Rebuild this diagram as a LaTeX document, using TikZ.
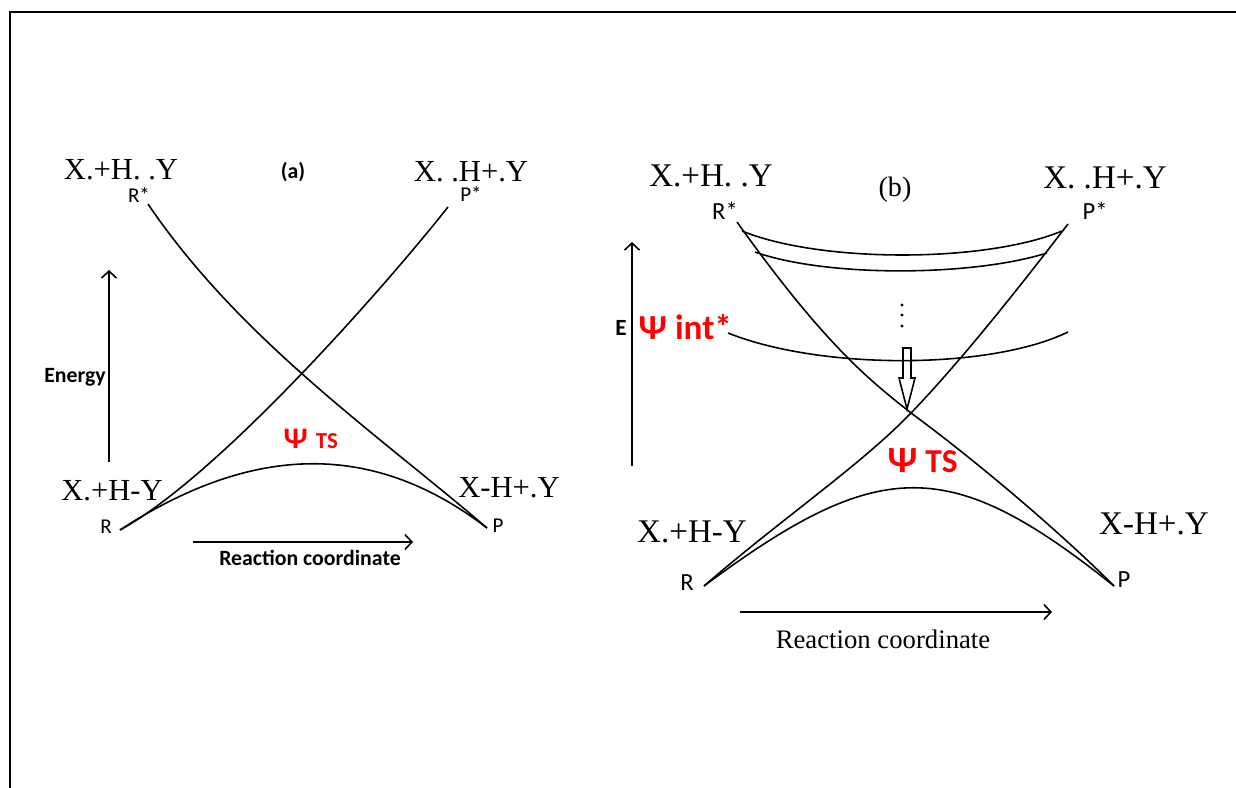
\documentclass[tikz,border=0pt]{standalone}
\usepackage{fontspec}
\setmainfont{Liberation Serif}
\newfontfamily\carlito{Carlito}
\usetikzlibrary{arrows.meta}
\definecolor{psired}{RGB}{255, 0, 0}

\begin{document}
\begin{tikzpicture}[x=0.01cm, y=-0.01cm,
        curve/.style={line width=0.45pt},
        axis/.style={line width=0.45pt, -{Straight Barb[length=0.7mm, width=1.5mm]}},
        lblA/.style={font=\fontsize{8.7}{10}\selectfont, anchor=base, inner sep=0pt},
        lblB/.style={font=\fontsize{9.4}{11}\selectfont, anchor=base, inner sep=0pt},
        tagA/.style={font=\carlito\fontsize{6}{7}\selectfont, anchor=base, inner sep=0pt},
        tagB/.style={font=\carlito\fontsize{7}{8}\selectfont, anchor=base, inner sep=0pt},
        boldA/.style={font=\carlito\bfseries\fontsize{6.2}{7}\selectfont, anchor=base, inner sep=0pt},
        psi/.style={font=\carlito\bfseries, text=psired, anchor=base west, inner sep=0pt}
      ]
        \useasboundingbox (0,0) rectangle (1236,788);
        % Frame
        \draw[line width=0.65pt] (10,788) -- (10,12) -- (1236,12);

        % (a) labels
        \node[lblA] (aRsTxt) at (121,180) {X.+H.\ .Y};
        \node[tagA] (aRsTag) at (139,203) {R*};
        \node[boldA] (aTitle) at (293,179) {(a)};
        \node[lblA] (aPsTxt) at (471,182) {X.\ .H+.Y};
        \node[tagA] (aPsTag) at (471,202) {P*};
        \node[boldA] (aEnergy) at (75,382) {Energy};
        \node[lblA] (aRTxt) at (112,500) {X.+H-Y};
        \node[tagA] (aRTag) at (106,533) {R};
        \node[lblA] (aPTxt) at (509,497) {X-H+.Y};
        \node[tagA] (aPTag) at (498,532) {P};
        \node[psi] (aTS) at (283,448) {{\fontsize{8.5}{9}\selectfont Ψ} {\fontsize{6.5}{8}\selectfont TS}};
        \node[boldA] (aRC) at (310,565) {Reaction coordinate};

        % (a) curves
        \coordinate (aRs) at (148,204);
        \coordinate (aPs) at (448,207);
        \coordinate (aR) at (120,530);
        \coordinate (aP) at (487,528);
        \draw[curve] (aRs) .. controls (240,340) and (380,436) .. (aP);
        \draw[curve] (aPs) .. controls (392,278) and (222,474) .. (aR);
        \draw[curve] (aR) .. controls (255,442) and (375,442) .. (aP);

        % (a) axes
        \coordinate (aEb) at (109,462);
        \coordinate (aEt) at (109,270);
        \coordinate (aCl) at (193,542);
        \coordinate (aCr) at (413,542);
        \draw[axis] (aEb) -- (aEt);
        \draw[axis] (aCl) -- (aCr);

        % (b) labels
        \node[lblB] (bRsTxt) at (711,186) {X.+H.\ .Y};
        \node[font=\fontsize{8}{9}\selectfont, anchor=base, inner sep=0pt] (bTitle) at (895,196) {(b)};
        \node[tagB] (bRsTag) at (725,220) {R*};
        \node[lblB] (bPsTxt) at (1105,189) {X.\ .H+.Y};
        \node[tagB] (bPsTag) at (1095,220) {P*};
        \node[boldA, font=\carlito\bfseries\fontsize{6.6}{7}\selectfont] (bE) at (621,335) {E};
        \node[psi, font=\carlito\bfseries\fontsize{10}{11}\selectfont] (bInt) at (638,340) {Ψ int*};
        \node[lblB] (bRTxt) at (692,542) {X.+H-Y};
        \node[tagB] (bRTag) at (687,590) {R};
        \node[lblB] (bPTxt) at (1154,534) {X-H+.Y};
        \node[tagB] (bPTag) at (1124,587) {P};
        \node[psi] (bTS) at (887,472) {{\fontsize{10.5}{11}\selectfont Ψ} {\fontsize{9.5}{10}\selectfont TS}};
        \node[font=\fontsize{7.6}{9}\selectfont, anchor=base, inner sep=0pt] (bRC) at (883,648) {Reaction coordinate};

        % (b) curves
        \coordinate (bRs) at (737,222);
        \coordinate (bPs) at (1068,224);
        \coordinate (bR) at (704,586);
        \coordinate (bP) at (1114,586);
        \coordinate (bX) at (911,413);
        \draw[curve] (bRs) .. controls (827,348) and (872,382) .. (bX)
                           .. controls (971,457) and (1056,528) .. (bP);
        \draw[curve] (bPs) .. controls (1018,289) and (961,361) .. (bX)
                           .. controls (861,465) and (780,520) .. (bR);
        \draw[curve] (bR) .. controls (880,455) and (950,455) .. (bP);

        % (b) upper levels
        \coordinate (bT1l) at (742,231);
        \coordinate (bT1r) at (1062,231);
        \coordinate (bT2l) at (755,252);
        \coordinate (bT2r) at (1047,253);
        \coordinate (bIl) at (728,333);
        \coordinate (bIr) at (1068,332);
        \draw[curve] (bT1l) .. controls (820,263) and (985,263) .. (bT1r);
        \draw[curve] (bT2l) .. controls (825,277) and (970,277) .. (bT2r);
        \draw[curve] (bIl) .. controls (820,370) and (990,370) .. (bIr);
        \foreach \y in {305,315,326}{
          \fill (902,\y) circle (0.45pt);
        }
        \draw[curve] (903,348) -- (911,348) -- (911,378) -- (915,378)
                     -- (907,409) -- (899,378) -- (903,378) -- cycle;

        % (b) axes
        \coordinate (bEb) at (632,466);
        \coordinate (bEt) at (632,242);
        \coordinate (bCl) at (740,612);
        \coordinate (bCr) at (1052,612);
        \draw[axis] (bEb) -- (bEt);
        \draw[axis] (bCl) -- (bCr);
      \end{tikzpicture}
\end{document}
